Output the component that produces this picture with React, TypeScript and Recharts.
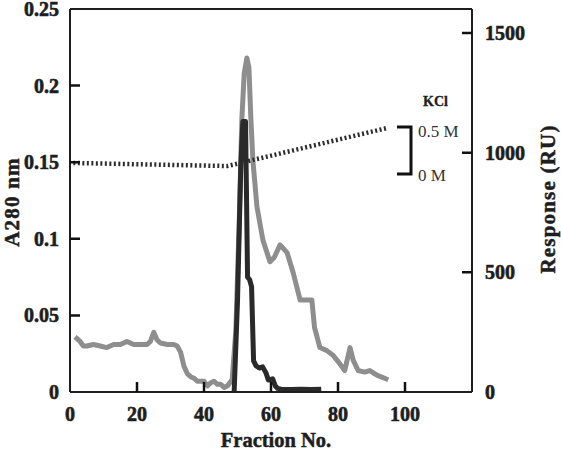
import { LineChart, Line, XAxis, YAxis, ReferenceLine } from "recharts";

// A280 elution profile (grey trace)
const a280Fractions = [
  1.5, 3, 4, 5, 7, 9, 11, 13, 15, 17, 19, 21, 23, 24, 25, 26, 27, 29, 31, 32,
  33, 34, 35, 36, 37, 38, 40, 41, 42, 43, 44, 45, 46, 47, 48.4, 49.5, 50.5,
  51.3, 52, 52.8, 53.4, 54, 54.6, 55.8, 57.6, 59.7, 61, 62.7, 64.8, 66.6,
  68.7, 72.2, 73, 74.6, 76.7, 78.5, 80, 82, 83.6, 84.5, 86, 88, 89.5, 91.6, 95,
];
const a280Values = [
  0.036, 0.033, 0.03, 0.03, 0.031, 0.03, 0.029, 0.031, 0.031, 0.033, 0.031,
  0.031, 0.031, 0.033, 0.039, 0.034, 0.032, 0.031, 0.031, 0.03, 0.026, 0.017,
  0.012, 0.01, 0.009, 0.007, 0.007, 0.004, 0.006, 0.007, 0.005, 0.005, 0.003,
  0.004, 0.008, 0.04, 0.11, 0.178, 0.208, 0.218, 0.212, 0.178, 0.151, 0.121,
  0.099, 0.085, 0.088, 0.096, 0.091, 0.078, 0.06, 0.06, 0.042, 0.029, 0.027,
  0.024, 0.02, 0.014, 0.029, 0.021, 0.014, 0.013, 0.014, 0.011, 0.008,
];

// binding response in RU (black trace)
const responseFractions = [
  49, 50, 51, 51.6, 52.4, 53, 53.6, 54.2, 54.8, 55.5, 56.5, 57.5, 58.5, 59.2,
  60.5, 61.3, 62, 63, 66, 69, 72, 75,
];
const responseValues = [
  0, 380, 950, 1130, 1130, 480, 470, 440, 130, 110, 100, 105, 80, 50, 55, 25,
  15, 12, 10, 12, 10, 12,
];

// KCl gradient, plotted on the A280 scale
const kclFractions = [1, 47, 95];
const kclLevels = [0.1495, 0.1475, 0.1725];

const xTicks = [0, 20, 40, 60, 80, 100];
const a280Ticks = [0, 0.05, 0.1, 0.15, 0.2, 0.25];
const responseTicks = [0, 500, 1000, 1500];

const X_MAX = 120;
const A280_MAX = 0.25;
const RU_MAX = 1600;

const zip = (xs: number[], ys: number[], key: string) =>
  xs.map((f, i) => ({ fraction: f, [key]: ys[i] }));

const a280Data = zip(a280Fractions, a280Values, "a280");
const responseData = zip(responseFractions, responseValues, "ru");
const kclData = zip(kclFractions, kclLevels, "kcl");

const FONT = "'Liberation Serif', 'Times New Roman', serif";
const INK = "#1e1e1e";

// plot box inside the 561x461 chart
const PLOT = { left: 70, right: 472, top: 9, bottom: 392 };
const TICK_LEN = 10;
const px = (f: number) => PLOT.left + (f / X_MAX) * (PLOT.right - PLOT.left);
const pyLeft = (v: number) => PLOT.bottom - (v / A280_MAX) * (PLOT.bottom - PLOT.top);
const pyRight = (v: number) => PLOT.bottom - (v / RU_MAX) * (PLOT.bottom - PLOT.top);

// inward tick marks as one path
const tickPath = [
  ...xTicks.slice(1).map((t) => `M${px(t)} ${PLOT.bottom} V${PLOT.bottom - TICK_LEN}`),
  ...a280Ticks.slice(1, -1).map((t) => `M${PLOT.left} ${pyLeft(t)} H${PLOT.left + TICK_LEN}`),
  ...responseTicks.slice(1).map((t) => `M${PLOT.right} ${pyRight(t)} H${PLOT.right - TICK_LEN}`),
].join(" ");

// heavy bold numerals: a thin outline thickens the glyphs a little
const tickText = {
  fontFamily: FONT,
  fontSize: 20,
  fontWeight: 700,
  fill: INK,
  stroke: INK,
  strokeWidth: 0.6,
};

function TickLabel(props: any) {
  const { x, y, payload, anchor, dy } = props;
  return (
    <text x={Number(x)} y={Number(y)} dy={dy} textAnchor={anchor} {...tickText}>
      {payload.value}
    </text>
  );
}

export default function App() {
  return (
    <div style={{ position: "absolute", left: 0, top: 0 }}>
      <LineChart
        width={561}
        height={461}
        margin={{ top: PLOT.top, right: 0, bottom: 0, left: 0 }}
      >
        <XAxis
          dataKey="fraction"
          type="number"
          domain={[0, X_MAX]}
          ticks={xTicks}
          height={69}
          tickSize={0}
          tickMargin={15}
          tickLine={false}
          axisLine={{ stroke: INK, strokeWidth: 2 }}
          tick={<TickLabel anchor="middle" dy={14} />}
        />
        <YAxis
          yAxisId="a280"
          orientation="left"
          domain={[0, A280_MAX]}
          ticks={a280Ticks}
          width={70}
          tickSize={0}
          tickMargin={11}
          tickLine={false}
          axisLine={{ stroke: INK, strokeWidth: 2 }}
          tick={<TickLabel anchor="end" dy={7} />}
        />
        <YAxis
          yAxisId="ru"
          orientation="right"
          domain={[0, RU_MAX]}
          ticks={responseTicks}
          width={89}
          tickSize={0}
          tickMargin={13}
          tickLine={false}
          axisLine={{ stroke: INK, strokeWidth: 2 }}
          tick={<TickLabel anchor="start" dy={7} />}
        />
        {/* top edge of the frame */}
        <ReferenceLine yAxisId="a280" y={A280_MAX} stroke={INK} strokeWidth={2} />
        <Line
          yAxisId="a280"
          data={a280Data}
          dataKey="a280"
          type="linear"
          stroke="#8e8e8e"
          strokeWidth={5}
          strokeLinejoin="round"
          dot={false}
          isAnimationActive={false}
        />
        <Line
          yAxisId="ru"
          data={responseData}
          dataKey="ru"
          type="linear"
          stroke="#2a2a2a"
          strokeWidth={5}
          strokeLinejoin="round"
          dot={false}
          isAnimationActive={false}
        />
        <Line
          yAxisId="a280"
          data={kclData}
          dataKey="kcl"
          type="linear"
          stroke="#2b2b2b"
          strokeWidth={4.5}
          strokeDasharray="2 2.5"
          dot={false}
          isAnimationActive={false}
        />
      </LineChart>

      {/* inward tick marks, axis titles and the KCl gradient key */}
      <svg
        width={561}
        height={461}
        style={{ position: "absolute", left: 0, top: 0, pointerEvents: "none" }}
      >
        <path d={tickPath} fill="none" stroke="#111" strokeWidth={2.5} />
        <g fontFamily={FONT} fill={INK} stroke={INK} strokeWidth={0.5}>
          <text
            x={12}
            y={202}
            transform="rotate(-90 12 202)"
            textAnchor="middle"
            dominantBaseline="central"
            fontSize={21}
            fontWeight={700}
            letterSpacing={1.2}
          >
            A280 nm
          </text>
          <text
            x={548}
            y={199}
            transform="rotate(-90 548 199)"
            textAnchor="middle"
            dominantBaseline="central"
            fontSize={21}
            fontWeight={700}
            letterSpacing={1.2}
          >
            Response (RU)
          </text>
          <text x={276} y={447} textAnchor="middle" fontSize={20.5} fontWeight={700}>
            Fraction No.
          </text>
          <text x={423} y={106} fontSize={14} fontWeight={700} strokeWidth={0.3}>
            KCl
          </text>
        </g>
        <g fontFamily={FONT} fill="#333">
          <text x={418} y={137} fontSize={17}>
            0.5 M
          </text>
          <text x={418} y={181} fontSize={17}>
            0 M
          </text>
        </g>
        <path d="M397 127 H411 V174 H397" fill="none" stroke="#111" strokeWidth={3} />
      </svg>
    </div>
  );
}
